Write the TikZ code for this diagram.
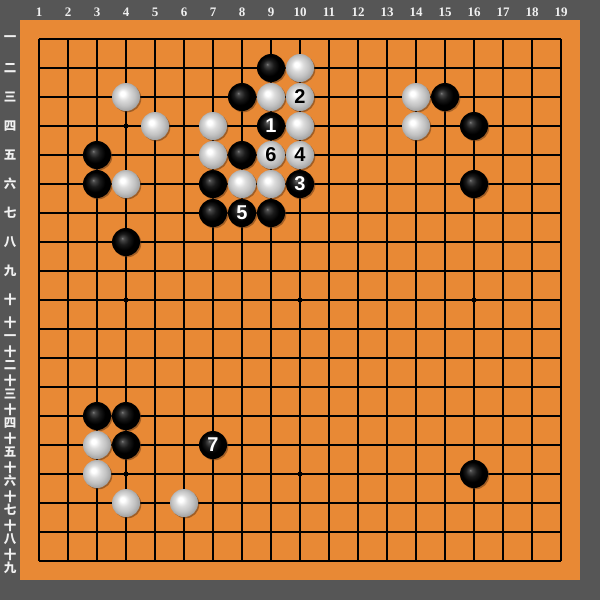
\documentclass[tikz,border=0pt]{standalone}
\usepackage{fontspec}
\setmainfont{Liberation Serif}
\newfontfamily\cjkfont{Noto Sans CJK SC}
\newfontfamily\numfont{Liberation Sans}
\usepackage{tikz}
\usetikzlibrary{positioning, shadows}

\definecolor{boardorange}{RGB}{232,137,53}
\definecolor{slate}{RGB}{86,86,86}
\definecolor{stoneshadow}{RGB}{90,50,20}

\pgfdeclareradialshading{blackball}{\pgfpoint{-7bp}{7bp}}{color(0bp)=(black!52); color(3bp)=(black!72); color(10bp)=(black!90); color(18bp)=(black); color(35bp)=(black)}
\pgfdeclareradialshading{whiteball}{\pgfpoint{-7bp}{7bp}}{color(0bp)=(white); color(4bp)=(white); color(11bp)=(white!86!black); color(19bp)=(white!76!black); color(26bp)=(white!64!black); color(35bp)=(white!50!black)}

% grid point (column, row) in pixels
\newcommand{\gp}[2]{({39+29*(#1-1)},{39+29*(#2-1)})}

\tikzset{
  stone/.style={circle, minimum size=28pt, inner sep=0pt,
    drop shadow={shadow xshift=1.3pt, shadow yshift=-1.3pt, opacity=.5, fill=stoneshadow}},
  bstone/.style={stone, shading=blackball, text=white,
    font=\numfont\bfseries\fontsize{20}{20}\selectfont},
  wstone/.style={stone, shading=whiteball, text=black,
    font=\numfont\bfseries\fontsize{20}{20}\selectfont},
  starpt/.style={circle, fill=black, minimum size=5pt, inner sep=0pt},
  gridline/.style={line width=1.3pt, black},
  collabel/.style={text=gray!12, font=\bfseries\fontsize{13}{13}\selectfont},
  rowlabel/.style={text=gray!12, align=center, inner sep=0pt,
    font=\cjkfont\bfseries\fontsize{12.5}{13}\selectfont},
}

\begin{document}
\begin{tikzpicture}[x=1pt, y=-1pt]
  % Board
  \fill[slate] (0,0) rectangle (600,600);
  \fill[boardorange] (20,20) rectangle (580,580);

  % Grid
  \foreach \i in {1,...,19} {
    \draw[gridline] \gp{\i}{1} -- \gp{\i}{19};
    \draw[gridline] \gp{1}{\i} -- \gp{19}{\i};
  }
  \foreach \c/\r in {4/4,10/4,16/4,4/10,10/10,16/10,4/16,10/16,16/16}
    \node[starpt] (star\c-\r) at \gp{\c}{\r} {};

  % Coordinates
  \foreach \i in {1,...,19}
    \node[collabel] (col\i) at ({39+29*(\i-1)},12) {\i};
  \foreach \r/\t in {1/一,2/二,3/三,4/四,5/五,6/六,7/七,8/八,9/九,10/十,
                     11/{十\\一},12/{十\\二},13/{十\\三},14/{十\\四},15/{十\\五},
                     16/{十\\六},17/{十\\七},18/{十\\八},19/{十\\九}}
    \node[rowlabel] (row\r) at (10,{39+29*(\r-1)}) {\t};

  % Black stones
  \foreach \c/\r/\n in {9/2/{},8/3/{},9/4/1,3/5/{},8/5/{},3/6/{},7/6/{},10/6/3,
                        7/7/{},8/7/5,9/7/{},4/8/{},15/3/{},16/4/{},16/6/{},
                        3/14/{},4/14/{},4/15/{},7/15/7,16/16/{}}
    \node[bstone] (b\c-\r) at \gp{\c}{\r} {\n};

  % White stones
  \foreach \c/\r/\n in {10/2/{},4/3/{},9/3/{},10/3/2,14/3/{},5/4/{},7/4/{},
                        10/4/{},14/4/{},7/5/{},9/5/6,10/5/4,4/6/{},8/6/{},
                        9/6/{},3/15/{},3/16/{},4/17/{},6/17/{}}
    \node[wstone] (w\c-\r) at \gp{\c}{\r} {\n};
\end{tikzpicture}
\end{document}
